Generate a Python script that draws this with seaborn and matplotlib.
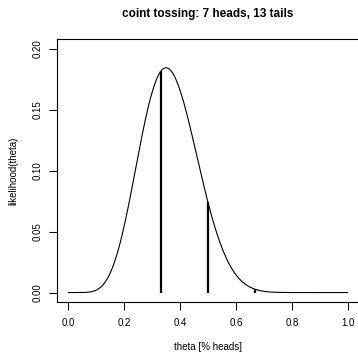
import numpy as np
import pandas as pd
import matplotlib
matplotlib.use("Agg")
import matplotlib.pyplot as plt
import seaborn as sns
from math import comb

sns.set_style("ticks")
plt.rcParams['font.family'] = ['Liberation Sans', 'DejaVu Sans']
plt.rcParams['text.color'] = 'black'
plt.rcParams['axes.labelcolor'] = 'black'
plt.rcParams['xtick.color'] = 'black'
plt.rcParams['ytick.color'] = 'black'

# coin tossing data
heads = 7
tails = 13
n = heads + tails
marked_thetas = [1 / 3, 1 / 2, 2 / 3]
x_ticks = [0.0, 0.2, 0.4, 0.6, 0.8, 1.0]
y_ticks = [0.00, 0.05, 0.10, 0.15, 0.20]


def likelihood(theta):
    theta = np.asarray(theta, dtype=float)
    return comb(n, heads) * theta ** heads * (1 - theta) ** tails


theta = np.linspace(0, 1, 501)
df = pd.DataFrame({"theta": theta, "likelihood": likelihood(theta)})

fig = plt.figure(figsize=(3.58, 3.56), dpi=100)
ax = fig.add_axes([57.1 / 358, (356 - 302.3) / 356, 301.8 / 358, 263.3 / 356])

sns.lineplot(data=df, x="theta", y="likelihood", color="black", lw=0.8, ax=ax)
ax.vlines(marked_thetas, 0, likelihood(marked_thetas), color="black", lw=1.6)

ax.set_xlim(-0.04, 1.04)
ax.set_ylim(-0.008, 0.208)
ax.set_xticks(x_ticks)
ax.set_xticklabels([f"{v:.1f}" for v in x_ticks])
ax.set_yticks(y_ticks)
ax.set_yticklabels([f"{v:.2f}" for v in y_ticks], rotation=90, va="center")
ax.tick_params(axis="both", direction="out", length=5.5, width=0.75,
               labelsize=7, colors="black")
ax.tick_params(axis="x", pad=6)
ax.tick_params(axis="y", pad=5)
for s in ax.spines.values():
    s.set_linewidth(0.8)
    s.set_color("black")
ax.spines["right"].set_visible(False)

ax.set_xlabel("theta [% heads]", fontsize=7)
ax.set_ylabel("likelihood(theta)", fontsize=7)
ax.xaxis.set_label_coords(0.5, -0.17)
ax.yaxis.set_label_coords(-0.146, 0.5)
ax.xaxis.label.set_va("center")
ax.yaxis.label.set_va("center")

fig.text(208 / 358, 1 - 14 / 356, "coint tossing: 7 heads, 13 tails",
         ha="center", va="center", fontsize=8.5, fontweight="bold",
         color="black")

fig.savefig("out.png", dpi=100)
